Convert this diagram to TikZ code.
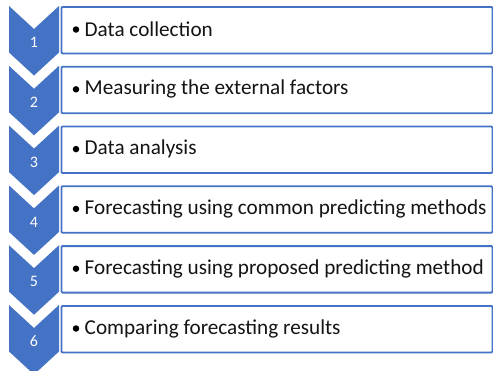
\documentclass[tikz,border=0pt]{standalone}
\usepackage{fontspec}
\setmainfont{Carlito}
\definecolor{accent}{HTML}{4472C4}
\begin{document}
\begin{tikzpicture}[x=1pt,y=-1pt,
  chev/.style={fill=accent},
  stepbox/.style={draw=accent, line width=1.8pt, fill=white, rounded corners=1pt,
    minimum width=431pt, minimum height=46.5pt, inner sep=0, anchor=north west},
  num/.style={text=white, font=\fontsize{16}{18}\selectfont, inner sep=0},
  item/.style={anchor=west, inner sep=0, font=\fontsize{21.2}{25}\selectfont, text=black!92},
  dot/.style={circle, fill=black, inner sep=0, minimum size=6.5pt}]
\clip (0,0) rectangle (493,370);
\fill[white] (0,0) rectangle (493,370);
\foreach \t [count=\n] in {Data collection,
    Measuring the external factors,
    Data analysis,
    Forecasting using common predicting methods,
    Forecasting using proposed predicting method,
    Comparing forecasting results} {
  \pgfmathsetmacro\yt{6+59.8*(\n-1)}
  % step chevron with notch on top and point at the bottom
  \fill[chev] (9,\yt) -- (34,\yt+23) -- (59,\yt) -- (59,\yt+46.5)
    -- (34,\yt+69.5) -- (9,\yt+46.5) -- cycle;
  \node[num] (num\n) at (34,\yt+36.5) {\n};
  % text box beside the chevron
  \node[stepbox] (box\n) at (60.5,\yt) {};
  \node[dot] (dot\n) at (76,\yt+23.5) {};
  \node[item] (txt\n) at (84.5,\yt+23.5) {\t};
}
\end{tikzpicture}
\end{document}
